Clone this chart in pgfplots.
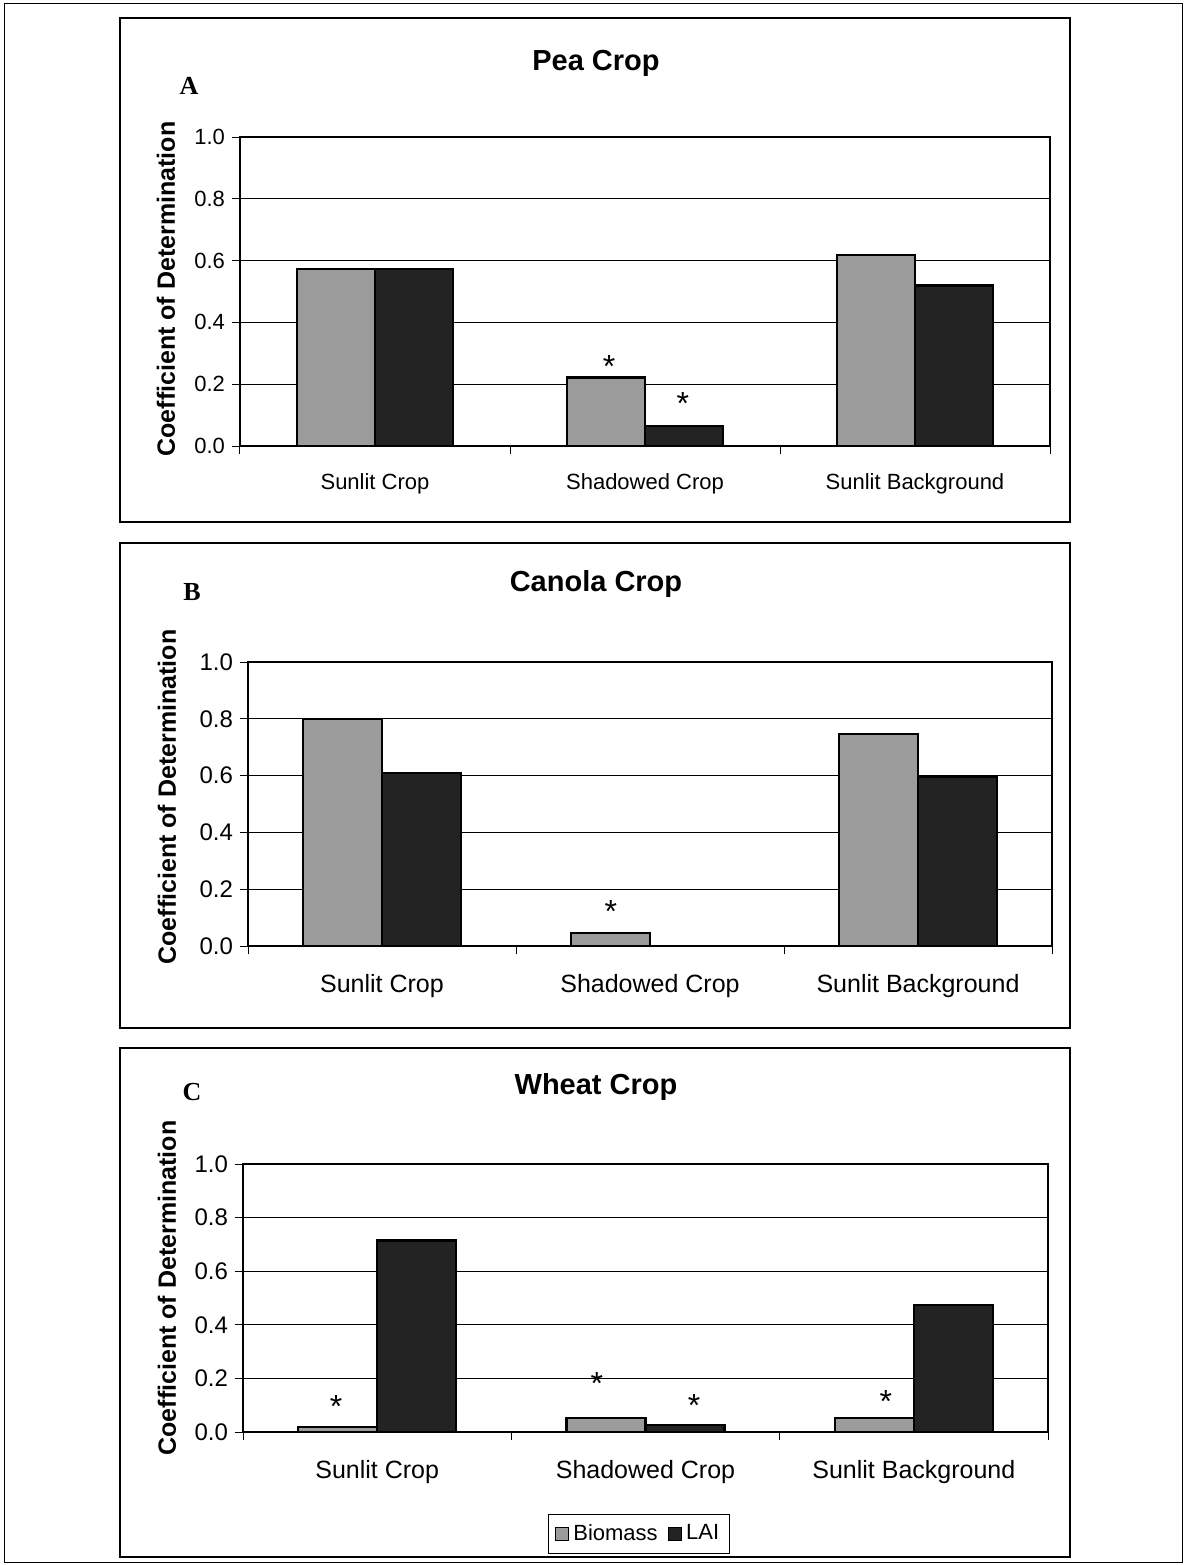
\documentclass[border=0pt]{standalone}
\usepackage{fontspec}
\setmainfont{Liberation Sans}
\newfontfamily\seriffont{Liberation Serif}
\usepackage{pgfplots}
\pgfplotsset{compat=1.18}
\definecolor{biomc}{RGB}{155,155,155}
\definecolor{laic}{RGB}{35,35,35}
\tikzset{
 biom/.style={fill=biomc, draw=black, line width=1.2pt},
 lai/.style={fill=laic, draw=black, line width=1.2pt},
 star/.style={font=\fontsize{16}{18}\selectfont, yshift=-3.4pt},
}
\pgfplotsset{
 panel/.style={
  scale only axis, anchor=south west,
  ybar=0pt,
  xmin=-0.5, xmax=2.5, ymin=0, ymax=1,
  ytick={0,0.2,0.4,0.6,0.8,1},
  yticklabel style={/pgf/number format/fixed, /pgf/number format/fixed zerofill, /pgf/number format/precision=1, /pgf/number format/assume math mode=true},
  ymajorgrids, grid style={black, line width=0.5pt},
  xtick={-0.5,0.5,1.5,2.5}, xticklabels={},
  extra x ticks={0,1,2},
  extra x tick labels={Sunlit Crop,Shadowed Crop,Sunlit Background},
  tick pos=left,
  tick align=outside, major tick length=4pt,
  tick style={black, line width=0.5pt},
  axis line style={black, line width=0.6pt},
  clip=false,
 },
}
\begin{document}
\begin{tikzpicture}
\useasboundingbox (0,0) rectangle (592.5pt,-782.5pt);
% outer frame and panel frames
\draw[black, line width=0.5pt] (2pt,-1.5pt) rectangle (591pt,-781pt);
\draw[black, line width=0.6pt] (60pt,-9pt) rectangle (535pt,-261pt);
\draw[black, line width=0.6pt] (60pt,-271.5pt) rectangle (535pt,-514pt);
\draw[black, line width=0.6pt] (60pt,-524pt) rectangle (535pt,-778.5pt);
% titles
\node[font=\bfseries\fontsize{14.5}{17}\selectfont] at (298pt,-31.5pt) {Pea Crop};
\node[font=\bfseries\fontsize{14.5}{17}\selectfont] at (298pt,-292pt) {Canola Crop};
\node[font=\bfseries\fontsize{14.5}{17}\selectfont] at (298pt,-543.5pt) {Wheat Crop};
% panel letters
\node[font=\seriffont\bfseries\fontsize{13}{15}\selectfont] at (94.5pt,-43pt) {A};
\node[font=\seriffont\bfseries\fontsize{13}{15}\selectfont] at (96pt,-296pt) {B};
\node[font=\seriffont\bfseries\fontsize{13}{15}\selectfont] at (96pt,-546pt) {C};
% y labels
\node[rotate=90, font=\bfseries\fontsize{12.5}{14}\selectfont] at (83pt,-144.5pt) {Coefficient of Determination};
\node[rotate=90, font=\bfseries\fontsize{12.5}{14}\selectfont] at (83.5pt,-398.5pt) {Coefficient of Determination};
\node[rotate=90, font=\bfseries\fontsize{12.5}{14}\selectfont] at (83.5pt,-644pt) {Coefficient of Determination};

% Panel A
\begin{axis}[panel, at={(120pt,-223pt)}, width=405pt, height=154.5pt, bar width=39pt,
  yticklabel style={font=\fontsize{11}{13}\selectfont},
  extra x tick style={major tick length=0pt, tick label style={font=\fontsize{11}{13}\selectfont, anchor=base, yshift=-21.5pt}}]
\addplot[biom] coordinates {(0,0.573) (1,0.222) (2,0.618)};
\addplot[lai] coordinates {(0,0.572) (1,0.065) (2,0.519)};
\node[star] at (axis cs:0.867,0.278) {*};
\node[star] at (axis cs:1.14,0.159) {*};
\end{axis}

% Panel B
\begin{axis}[panel, at={(124pt,-473pt)}, width=402pt, height=142pt, bar width=39.5pt,
  yticklabel style={font=\fontsize{12}{14}\selectfont},
  extra x tick style={major tick length=0pt, tick label style={font=\fontsize{12.5}{14}\selectfont, anchor=base, yshift=-23pt}}]
\addplot[biom] coordinates {(0,0.80) (1,0.046) (2,0.746)};
\addplot[lai] coordinates {(0,0.609) (2,0.595)};
\node[star] at (axis cs:0.854,0.144) {*};
\end{axis}

% Panel C
\begin{axis}[panel, at={(121.5pt,-716pt)}, width=402.5pt, height=134pt, bar width=39.5pt,
  yticklabel style={font=\fontsize{12}{14}\selectfont},
  extra x tick style={major tick length=0pt, tick label style={font=\fontsize{12.5}{14}\selectfont, anchor=base, yshift=-23pt}},
  legend style={at={(0.492,-0.38)}, anchor=center, legend columns=2, draw=black, line width=0.5pt,
     font=\fontsize{11}{13}\selectfont, inner xsep=3pt, inner ysep=3pt,
     /tikz/every even column/.append style={column sep=3pt}},
  legend image code/.code={\draw[#1, line width=0.6pt] (0pt,-3.3pt) rectangle (6.6pt,3.3pt);}]
\addplot[biom] coordinates {(0,0.018) (1,0.052) (2,0.052)};
\addlegendentry{Biomass}
\addplot[lai] coordinates {(0,0.715) (1,0.026) (2,0.474)};
\addlegendentry{LAI}
\node[star] at (axis cs:-0.153,0.119) {*};
\node[star] at (axis cs:0.819,0.205) {*};
\node[star] at (axis cs:1.181,0.123) {*};
\node[star] at (axis cs:1.896,0.138) {*};
\end{axis}
\end{tikzpicture}
\end{document}
